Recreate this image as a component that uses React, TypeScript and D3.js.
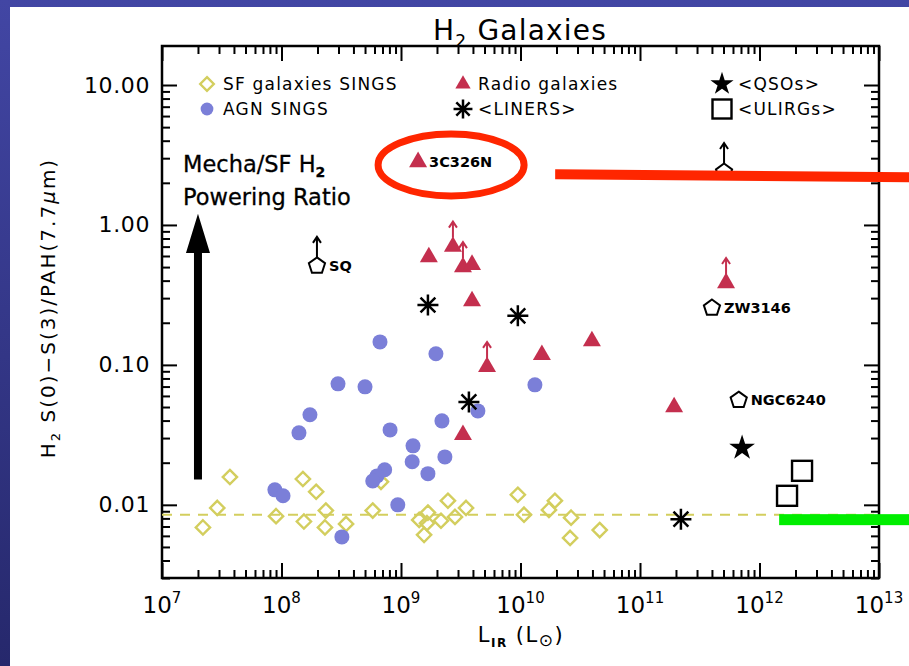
import React, { useEffect, useRef } from "react";
import * as d3 from "d3";

const W = 909;
const H = 666;

const xDomain = [1e7, 1e13];
const yDomain = [0.003, 19];
const xMajor = [1e7, 1e8, 1e9, 1e10, 1e11, 1e12, 1e13];
const yMajor = [0.01, 0.1, 1, 10];

// [L_IR, ratio]
const sfSings = [
  [3.7e7, 0.0158], [2.9e7, 0.0095], [2.2e7, 0.0069], [9.0e7, 0.0083], [1.51e8, 0.0153],
  [1.95e8, 0.0124], [1.54e8, 0.0076], [2.35e8, 0.0091], [2.31e8, 0.0069], [3.47e8, 0.0073],
  [6.8e8, 0.0146], [5.8e8, 0.0091], [1.42e9, 0.0078], [1.68e9, 0.0088], [1.65e9, 0.0074],
  [1.56e9, 0.0061], [2.16e9, 0.0077], [2.47e9, 0.0107], [2.83e9, 0.0082], [3.5e9, 0.0095],
  [9.5e9, 0.0118], [1.07e10, 0.0085], [1.73e10, 0.0092], [1.94e10, 0.0107], [2.65e10, 0.0081],
  [2.6e10, 0.0058], [4.6e10, 0.0066],
];

const agnSings = [
  [6.67e8, 0.146], [1.96e9, 0.12], [2.97e8, 0.0732], [5.0e8, 0.0697], [1.73e8, 0.044],
  [1.4e8, 0.0327], [8.1e8, 0.0343], [2.2e9, 0.0398], [4.4e9, 0.0469], [1.32e10, 0.072],
  [1.26e9, 0.0264], [1.24e9, 0.0203], [2.33e9, 0.022], [1.68e9, 0.0167], [7.3e8, 0.0178],
  [6.3e8, 0.0161], [5.8e8, 0.0148], [8.8e7, 0.0128], [1.03e8, 0.0116], [9.4e8, 0.01],
  [3.2e8, 0.0059],
];

// [L_IR, ratio, lower limit, label]
const radioGalaxies: [number, number, boolean, string][] = [
  [1.39e9, 2.82, false, "3C326N"], [1.71e9, 0.59, false, ""], [2.72e9, 0.7, true, ""],
  [3.3e9, 0.5, true, ""], [3.93e9, 0.52, false, ""], [3.93e9, 0.286, false, ""],
  [5.25e9, 0.0967, true, ""], [1.51e10, 0.118, false, ""], [3.96e10, 0.148, false, ""],
  [1.93e11, 0.05, false, ""], [5.25e11, 0.385, true, ""], [3.3e9, 0.0316, false, ""],
];

const liners = [[1.68e9, 0.268], [9.5e9, 0.224], [3.7e9, 0.0544], [2.2e11, 0.0079]];
const qsos = [[7.15e11, 0.0255]];
const ulirgs = [[2.27e12, 0.0175], [1.7e12, 0.0116]];

// [name, L_IR, ratio, lower limit]
const namedObjects: [string, number, number, boolean][] = [
  ["SQ", 1.98e8, 0.51, true],
  ["ZW3146", 4.0e11, 0.255, false],
  ["NGC6240", 6.7e11, 0.056, false],
  ["", 5.05e11, 2.39, true],
];

const sfMeanRatio = 0.0085;

const legendItems = [
  ["diamond", "SF galaxies SINGS"], ["triangle", "Radio galaxies"], ["star", "<QSOs>"],
  ["circle", "AGN SINGS"], ["asterisk", "<LINERS>"], ["square", "<ULIRGs>"],
];

const YELLOW = "#d3ce5e";
const BLUE = "#7b7fd8";
const RED = "#c42f4e";
const FONT = "'DejaVu Sans', sans-serif";

function asteriskPath(r: number) {
  const d = r * Math.SQRT1_2;
  return `M${-r},0L${r},0M0,${-r}L0,${r}M${-d},${-d}L${d},${d}M${-d},${d}L${d},${-d}`;
}

function pentagonPath(r: number) {
  const pts = d3.range(5).map((i) => {
    const a = -Math.PI / 2 + (i * 2 * Math.PI) / 5;
    return [r * Math.cos(a), r * Math.sin(a)] as [number, number];
  });
  return d3.line()(pts) + "Z";
}

function arrowUp(g: any, cx: number, y0: number, y1: number, color: string) {
  g.append("path")
    .attr("d", `M${cx},${y0}L${cx},${y1}M${cx - 4},${y1 + 6}L${cx},${y1}L${cx + 4},${y1 + 6}`)
    .attr("fill", "none")
    .attr("stroke", color)
    .attr("stroke-width", 2);
}

function drawMarker(g: any, kind: string, cx: number, cy: number, scale = 1) {
  const t = `translate(${cx},${cy})`;
  if (kind === "diamond") {
    g.append("path").attr("transform", t)
      .attr("d", d3.symbol(d3.symbolDiamond2, 130 * scale * scale)())
      .attr("fill", "none").attr("stroke", YELLOW).attr("stroke-width", 2.4);
  } else if (kind === "circle") {
    g.append("path").attr("transform", t)
      .attr("d", d3.symbol(d3.symbolCircle, 177 * scale * scale)()).attr("fill", BLUE);
  } else if (kind === "triangle") {
    g.append("path").attr("transform", t)
      .attr("d", d3.symbol(d3.symbolTriangle, 140 * scale * scale)()).attr("fill", RED);
  } else if (kind === "asterisk") {
    g.append("path").attr("transform", t).attr("d", asteriskPath(10.5 * scale))
      .attr("stroke", "#000").attr("stroke-width", 2.5).attr("fill", "none");
  } else if (kind === "star") {
    g.append("path").attr("transform", t)
      .attr("d", d3.symbol(d3.symbolStar, 205 * scale * scale)()).attr("fill", "#000");
  } else if (kind === "square") {
    const s = 20 * scale;
    g.append("rect").attr("x", cx - s / 2).attr("y", cy - s / 2).attr("width", s).attr("height", s)
      .attr("fill", "none").attr("stroke", "#000").attr("stroke-width", 2.4);
  } else if (kind === "pentagon") {
    g.append("path").attr("transform", t).attr("d", pentagonPath(8.5 * scale))
      .attr("fill", "none").attr("stroke", "#000").attr("stroke-width", 2);
  }
}

const isDecade = (v: number) => Math.abs(Math.log10(v) - Math.round(Math.log10(v))) < 1e-9;

function drawChart(el: SVGSVGElement) {
  const svg = d3.select(el);
  svg.selectAll("*").remove();

  const x = d3.scaleLog().domain(xDomain).range([162, 879]);
  const y = d3.scaleLog().domain(yDomain).range([578, 46]);

  const defs = svg.append("defs");
  const grad = defs.append("linearGradient").attr("id", "bg")
    .attr("x1", 0).attr("y1", 0).attr("x2", 0).attr("y2", 1);
  grad.append("stop").attr("offset", "0%").attr("stop-color", "#4246a4");
  grad.append("stop").attr("offset", "100%").attr("stop-color", "#26286c");
  svg.append("rect").attr("width", W).attr("height", H).attr("fill", "url(#bg)");
  svg.append("rect").attr("x", 10).attr("y", 7).attr("width", W - 10).attr("height", H - 7).attr("fill", "#fff");

  // axes
  const addAxis = (axis: any, transform: string) => {
    const g = svg.append("g").attr("transform", transform).call(axis);
    g.select(".domain").remove();
    g.selectAll(".tick line").attr("stroke", "#000").attr("stroke-width", 2);
    return g;
  };
  const minorX = x.ticks().filter((v) => !isDecade(v));
  const minorY = y.ticks().filter((v) => !isDecade(v));
  const none = () => "";

  addAxis(d3.axisBottom(x).tickValues(xMajor).tickSize(-15).tickFormat(none), "translate(0,578)");
  addAxis(d3.axisBottom(x).tickValues(minorX).tickSize(-8).tickFormat(none), "translate(0,578)");
  addAxis(d3.axisTop(x).tickValues(xMajor).tickSize(-15).tickFormat(none), "translate(0,46)");
  addAxis(d3.axisTop(x).tickValues(minorX).tickSize(-8).tickFormat(none), "translate(0,46)");
  addAxis(d3.axisRight(y).tickValues(yMajor).tickSize(-15).tickFormat(none), "translate(879,0)");
  addAxis(d3.axisRight(y).tickValues(minorY).tickSize(-8).tickFormat(none), "translate(879,0)");
  addAxis(d3.axisLeft(y).tickValues(minorY).tickSize(-8).tickFormat(none), "translate(162,0)");
  const yl = addAxis(
    d3.axisLeft(y).tickValues(yMajor).tickSize(-15).tickPadding(12).tickFormat(d3.format(".2f")),
    "translate(162,0)"
  );
  yl.attr("font-family", FONT).attr("font-size", 22);
  yl.selectAll(".tick text").attr("fill", "#000").attr("letter-spacing", 0.6);

  svg.append("rect").attr("x", 162).attr("y", 46).attr("width", 717).attr("height", 532)
    .attr("fill", "none").attr("stroke", "#000").attr("stroke-width", 2.5);

  const xl = svg.append("g").attr("font-family", FONT).attr("font-size", 23).attr("fill", "#000");
  xl.selectAll("text").data(xMajor).join("text")
    .attr("x", (d) => x(d)).attr("y", 613).attr("text-anchor", "middle")
    .each(function (d) {
      const t = d3.select(this);
      t.append("tspan").text("10");
      t.append("tspan").attr("font-size", 15).attr("dy", -10).text(Math.round(Math.log10(d)));
    });

  // titles
  const title = svg.append("text").attr("x", 520).attr("y", 40).attr("text-anchor", "middle")
    .attr("font-family", FONT).attr("font-size", 28).attr("letter-spacing", 1.2);
  title.append("tspan").text("H");
  title.append("tspan").attr("font-size", 17).attr("dy", 7).text("2");
  title.append("tspan").attr("dy", -7).text(" Galaxies");

  const xt = svg.append("text").attr("x", 521).attr("y", 642).attr("text-anchor", "middle")
    .attr("font-family", FONT).attr("font-size", 21).attr("letter-spacing", 1.5);
  xt.append("tspan").text("L");
  xt.append("tspan").attr("font-size", 12).attr("font-weight", "bold").attr("dy", 5).text("IR");
  xt.append("tspan").attr("dy", -5).text(" (L");
  xt.append("tspan").attr("font-size", 17).attr("dy", 4).text("⊙");
  xt.append("tspan").attr("dy", -4).text(")");

  const yt = svg.append("text").attr("transform", "translate(55,308) rotate(-90)")
    .attr("text-anchor", "middle").attr("font-family", FONT).attr("font-size", 20)
    .attr("letter-spacing", 2);
  yt.append("tspan").text("H");
  yt.append("tspan").attr("font-size", 13).attr("dy", 5).text("2");
  yt.append("tspan").attr("dy", -5).text(" S(0)−S(3)/PAH(7.7");
  yt.append("tspan").attr("font-style", "italic").text("μ");
  yt.append("tspan").text("m)");

  // data
  const plot = svg.append("g");
  plot.append("line").attr("x1", 162).attr("x2", 879)
    .attr("y1", y(sfMeanRatio)).attr("y2", y(sfMeanRatio))
    .attr("stroke", YELLOW).attr("stroke-width", 2).attr("stroke-dasharray", "10,8");

  sfSings.forEach(([l, r]) => drawMarker(plot, "diamond", x(l), y(r)));
  agnSings.forEach(([l, r]) => drawMarker(plot, "circle", x(l), y(r)));
  radioGalaxies.forEach(([l, r, lim, label]) => {
    drawMarker(plot, "triangle", x(l), y(r));
    if (lim) arrowUp(plot, x(l), y(r) - 9, y(r) - 25, RED);
    if (label) {
      plot.append("text").attr("x", x(l) + 11).attr("y", y(r) + 5)
        .attr("font-family", FONT).attr("font-size", 14.5).attr("font-weight", "bold").text(label);
    }
  });
  liners.forEach(([l, r]) => drawMarker(plot, "asterisk", x(l), y(r)));
  qsos.forEach(([l, r]) => drawMarker(plot, "star", x(l), y(r)));
  ulirgs.forEach(([l, r]) => drawMarker(plot, "square", x(l), y(r)));
  namedObjects.forEach(([name, l, r, lim]) => {
    drawMarker(plot, "pentagon", x(l), y(r));
    if (lim) arrowUp(plot, x(l), y(r) - 8, y(r) - 29, "#000");
    if (name) {
      plot.append("text").attr("x", x(l) + 12).attr("y", y(r) + 5)
        .attr("font-family", FONT).attr("font-size", 14.5).attr("font-weight", "bold").text(name);
    }
  });

  // legend
  const lg = svg.append("g").attr("font-family", FONT).attr("font-size", 17).attr("letter-spacing", 1.2);
  legendItems.forEach(([kind, label], i) => {
    const col = i % 3;
    const row = Math.floor(i / 3);
    const sx = [207, 463, 722][col];
    const tx = [223, 478, 738][col];
    const sy = 84 + row * 25;
    const sc = kind === "star" ? 0.9 : kind === "asterisk" ? 0.9 : kind === "triangle" ? 0.85 : kind === "circle" ? 0.85 : 0.95;
    drawMarker(lg, kind, sx, sy, sc);
    lg.append("text").attr("x", tx).attr("y", sy + 6).text(label);
  });

  // annotations
  const ann = svg.append("g");
  const mt = ann.append("text").attr("x", 183).attr("y", 172).attr("font-family", FONT)
    .attr("font-size", 22.5).attr("stroke", "#000").attr("stroke-width", 0.3);
  mt.append("tspan").text("Mecha/SF H");
  mt.append("tspan").attr("font-size", 14).attr("font-weight", "bold").attr("dy", 5).text("2");
  ann.append("text").attr("x", 183).attr("y", 205).attr("font-family", FONT)
    .attr("font-size", 22.5).attr("stroke", "#000").attr("stroke-width", 0.3).text("Powering Ratio");

  const ax = x(2.0e7);
  ann.append("path")
    .attr("d", `M${ax - 4},${y(0.0152)}L${ax - 4},${y(0.63)}L${ax - 12},${y(0.63)}L${ax},${y(1.2)}L${ax + 12},${y(0.63)}L${ax + 4},${y(0.63)}L${ax + 4},${y(0.0152)}Z`)
    .attr("fill", "#000");

  const hl = radioGalaxies[0];
  ann.append("ellipse").attr("cx", x(hl[0]) + 33).attr("cy", y(hl[1]) + 3)
    .attr("rx", 73).attr("ry", 31).attr("fill", "none").attr("stroke", "#ff2600").attr("stroke-width", 7);

  ann.append("path")
    .attr("d", `M${x(1.95e10)},${y(2.3) - 5}L${W},${y(2.3) - 2}L${W},${y(2.3) + 8}L${x(1.95e10)},${y(2.3) + 5}Z`)
    .attr("fill", "#ff2600");
  ann.append("rect").attr("x", x(1.46e12)).attr("y", y(0.0079) - 5)
    .attr("width", W - x(1.46e12)).attr("height", 11).attr("fill", "#00ee00");
}

export default function App() {
  const ref = useRef<SVGSVGElement>(null);
  useEffect(() => {
    if (ref.current) drawChart(ref.current);
  }, []);
  return <svg ref={ref} width={W} height={H} style={{ position: "absolute", left: 0, top: 0 }} />;
}
